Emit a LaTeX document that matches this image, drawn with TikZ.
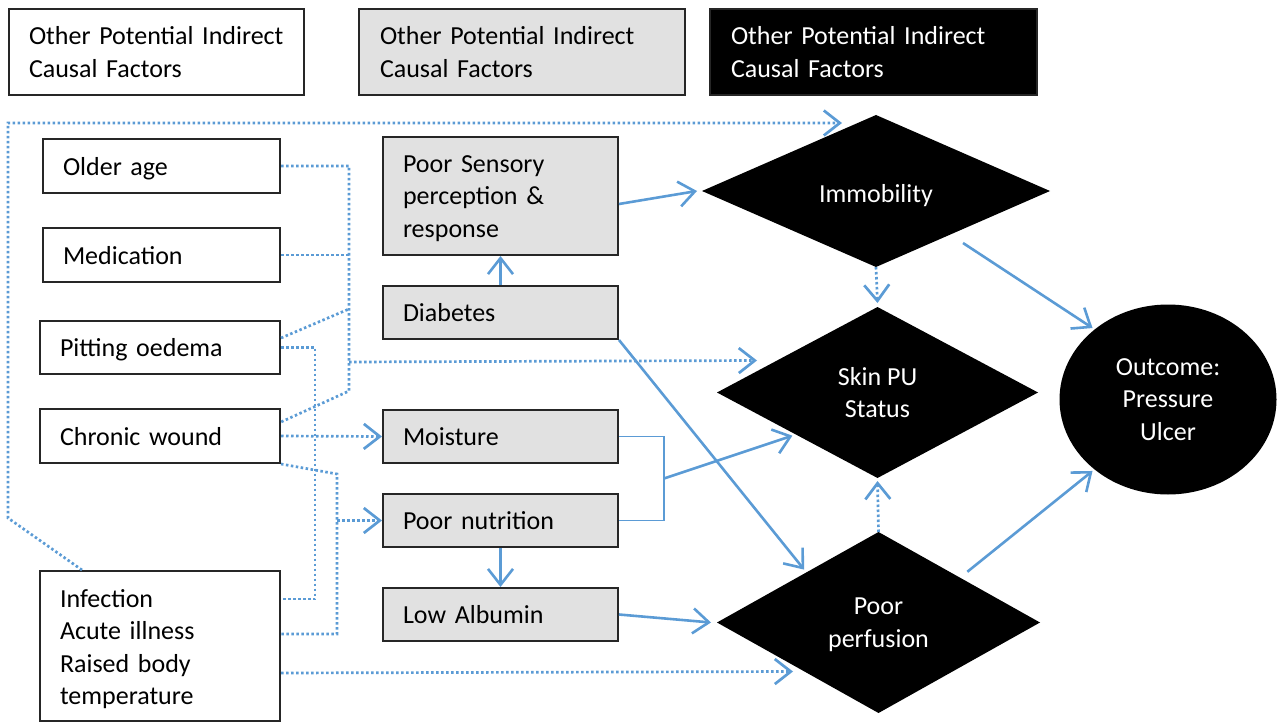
\documentclass[tikz,border=0pt]{standalone}
\usepackage{fontspec}
\setmainfont{Carlito}
\usetikzlibrary{arrows.meta,calc,shapes.geometric}

\definecolor{linkblue}{RGB}{91,155,213}
\definecolor{boxgray}{RGB}{225,225,225}

\tikzset{
  txt/.style={font=\fontsize{26}{32.4}\selectfont},
  factor/.style={txt, draw=black!85, line width=2pt, inner xsep=20pt, inner ysep=0pt,
    align=left, anchor=north west},
  oneline/.style={text depth=0pt},
  direct/.style={factor, fill=boxgray},
  risk/.style={txt, diamond, fill=black, text=white, inner sep=0pt, outer sep=0pt, align=center,
    text depth=0pt},
  link/.style={draw=linkblue, line width=2.6pt},
  dotlink/.style={draw=linkblue, line width=2.7pt, dash pattern=on 2.5pt off 2.5pt},
  vtip/.style={-{Straight Barb[length=16pt,width=25pt]}}
}

\begin{document}
\begin{tikzpicture}[x=1pt,y=-1pt]
\useasboundingbox (0,0) rectangle (1285,722);

% legend
\node[factor, text width=255pt, minimum height=86pt] (keyA) at (8,8) {Other Potential Indirect\\Causal Factors};
\node[direct, text width=284pt, minimum height=86pt, inner xsep=21pt] (keyB) at (358,8) {Other Potential Indirect\\Causal Factors};
\node[factor, fill=black, text=white, text width=285pt, minimum height=86pt, inner xsep=21pt] (keyC) at (709,8) {Other Potential Indirect\\Causal Factors};

% indirect factors
\node[factor, oneline, text width=197pt, minimum height=54pt] (older) at (42,138) {Older age};
\node[factor, oneline, text width=197pt, minimum height=54pt] (med) at (42,227) {Medication};
\node[factor, oneline, text width=200pt, minimum height=53pt] (pitt) at (39,320) {Pitting oedema};
\node[factor, oneline, text width=200pt, minimum height=54pt] (chronic) at (39,408) {Chronic wound};
\node[factor, text width=200pt, minimum height=150pt, text height=24pt] (infect) at (39,570) {Infection\\Acute illness\\Raised body\\temperature};

% direct factors
\node[direct, text width=195pt, minimum height=118pt, text height=22pt] (sens) at (382,136) {Poor Sensory\\perception \&\\response};
\node[direct, oneline, text width=195pt, minimum height=53pt] (diab) at (382,285) {Diabetes};
\node[direct, oneline, text width=195pt, minimum height=53pt] (moist) at (382,409) {Moisture};
\node[direct, oneline, text width=195pt, minimum height=53pt] (nutr) at (382,493) {Poor nutrition};
\node[direct, oneline, text width=195pt, minimum height=53pt] (alb) at (382,587) {Low Albumin};

% key factors
\node[risk, minimum width=348pt, minimum height=152pt, aspect=2.3, text height=23pt] (immob) at (876,191) {Immobility};
\node[risk, minimum width=321pt, minimum height=171pt, aspect=1.9] (skin) at (877.5,392.5) {Skin PU\\Status};
\node[risk, minimum width=323pt, minimum height=181pt, aspect=1.8] (perf) at (878.5,622.5) {Poor\\perfusion};
\node[txt, ellipse, fill=black, text=white, inner sep=0pt, outer sep=0pt, align=center,
  minimum width=217pt, minimum height=190pt] (outcome) at (1168,399.5) {Outcome:\\Pressure\\Ulcer};

% dotted links from indirect factors
\draw[dotlink, vtip] ([xshift=43pt]infect.north west) -- (8,518) |- ($(immob.north)+(-34,8)$);
\draw[dotlink] (older.east) -- ++(68,0) coordinate (bustop) -- ++(0,225) coordinate (busbot)
  -- ([yshift=-14pt]chronic.north east);
\draw[dotlink] (med.east) -- (med.east -| bustop);
\draw[dotlink] ([yshift=-18pt]pitt.north east) -- ($(bustop)+(0,143)$);
\draw[dotlink, vtip] ($(bustop)+(0,196)$) -- ($(skin.west)+(40,-32)$);
\draw[dotlink] (pitt.east) -- ++(34,0) |- ([yshift=47pt]infect.east);
\draw[dotlink] (chronic.south east) -- ++(56,10) coordinate (bend) |- ([yshift=12pt]infect.east);
\draw[dotlink, vtip] (nutr.west -| bend) -- (nutr.west);
\draw[dotlink, vtip] (chronic.east) -- (moist.west);
\draw[dotlink, vtip] ([yshift=-27pt]infect.east) -- ($(perf.west)+(76,49)$);

% direct links
\draw[link, vtip] ([yshift=-8pt]sens.east) -- ([xshift=-5pt]immob.west);
\draw[link, vtip] (diab.north) -- (sens.south);
\draw[link, vtip] (diab.south east) -- ($(perf.west)!0.54!(perf.north)+(0,-4)$);
\draw[link, vtip] (nutr.south) -- (alb.north);
\draw[link, vtip] (alb.east) -- ([xshift=-6pt]perf.west);
\draw[linkblue, line width=1.4pt] (moist.east) -- ++(45,0) coordinate (brk) |- (nutr.east);
\draw[link, vtip] ($(brk)!0.5!(brk |- nutr.east)$) -- ($(skin.west)!0.47!(skin.south)+(0,3)$);
\draw[dotlink, vtip] (immob.south) -- ([yshift=4pt]skin.north);
\draw[dotlink, vtip] (perf.north) -- ([yshift=-3pt]skin.south);
\draw[link, vtip] ($(immob.east)!0.5!(immob.south)+(0,14)$) -- ([xshift=-4pt]outcome.135);
\draw[link, vtip] ($(perf.north)!0.55!(perf.east)+(0,-10)$) -- ([xshift=-4pt]outcome.225);
\end{tikzpicture}
\end{document}
